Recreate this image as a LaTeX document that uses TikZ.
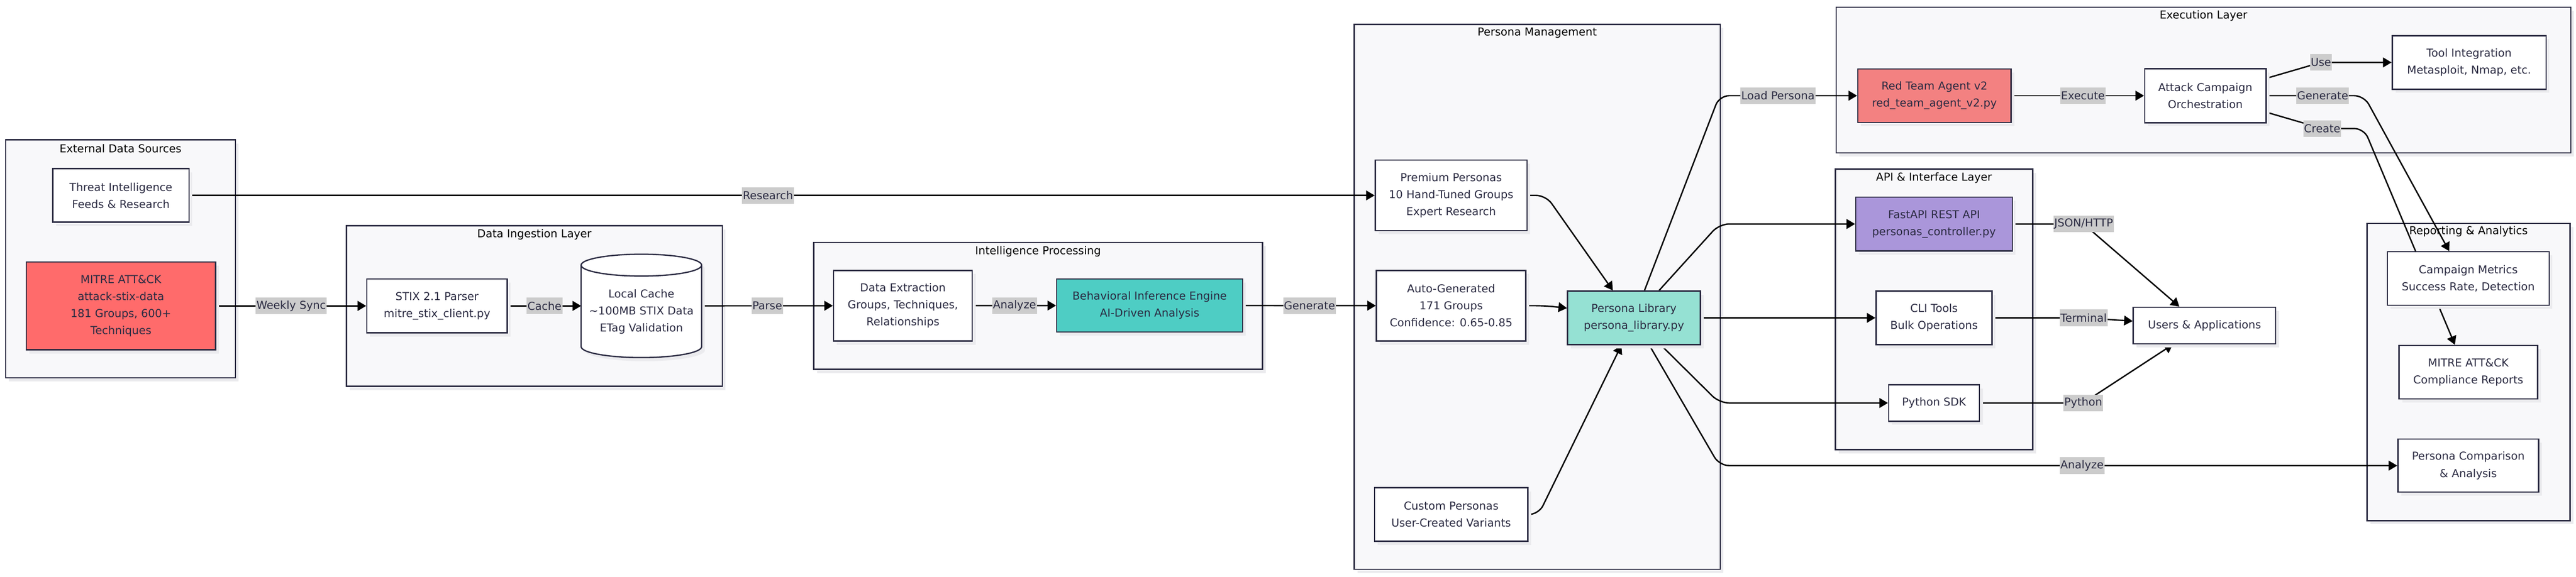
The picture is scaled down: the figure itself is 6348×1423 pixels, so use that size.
\documentclass[tikz,border=0pt]{standalone}
\usepackage{fontspec}
\setmainfont{DejaVu Sans}
\usepackage{xcolor}
\usetikzlibrary{arrows.meta}
\usetikzlibrary{calc}
\usetikzlibrary{shadows}
\usetikzlibrary{backgrounds}
\definecolor{inkcol}{HTML}{2B2B42}
\definecolor{groupcol}{HTML}{F8F8FA}
\definecolor{shadowcol}{HTML}{EBEBEE}
\definecolor{labelgray}{HTML}{CCCCCC}
\definecolor{mitrecol}{HTML}{FF6B6B}
\definecolor{redteamcol}{HTML}{F38181}
\definecolor{behavcol}{HTML}{4ECDC4}
\definecolor{librarycol}{HTML}{95E1D3}
\definecolor{apicol}{HTML}{AA96DA}
\pgfdeclarelayer{edges}
\pgfsetlayers{background,edges,main}
\tikzset{
    txt/.style={text=inkcol, font=\fontsize{13.5}{21}\selectfont, align=center},
    softshadow/.style={general shadow={fill=shadowcol, shadow xshift=4pt, shadow yshift=-4.5pt}},
    box/.style={txt, draw=inkcol, line width=1.6pt, fill=white, inner sep=0pt, softshadow},
    group/.style={draw=inkcol, line width=1.6pt, fill=groupcol, softshadow},
    grouptitle/.style={txt, text=black},
    flow/.style={draw=black, line width=1.7pt, rounded corners=12pt, -{Triangle[length=10.5pt,width=12pt]}},
    lbl/.style={txt, sharp corners, fill=labelgray, inner xsep=1pt, inner ysep=0pt, minimum height=20.5pt}
}

\begin{document}
\begin{tikzpicture}[x=0.5pt,y=-0.5pt]
        \useasboundingbox (0,0) rectangle (6348,1423);

        % groups
        \begin{pgfonlayer}{background}
        \draw[group] (14,345) rectangle (580,932);
        \node[grouptitle] at (297,367) {External Data Sources};
        \draw[group] (854,557) rectangle (1780,953);
        \node[grouptitle] at (1317,578) {Data Ingestion Layer};
        \draw[group] (2005,598) rectangle (3111,911);
        \node[grouptitle] at (2558,620) {Intelligence Processing};
        \draw[group] (3337,60) rectangle (4239,1404);
        \node[grouptitle] at (3788,81) {Persona Management};
        \draw[group] (4525,18) rectangle (6335,377);
        \node[grouptitle] at (5430,39) {Execution Layer};
        \draw[group] (4523,417) rectangle (5009,1109);
        \node[grouptitle] at (4766,439) {API \& Interface Layer};
        \draw[group] (5833,551) rectangle (6333,1284);
        \node[grouptitle] at (6083,571) {Reporting \& Analytics};
        \end{pgfonlayer}

        \node[box, minimum width=168pt, minimum height=66pt] (threat) at (298,482) {Threat Intelligence\\Feeds \& Research};
        \node[box, fill=mitrecol, minimum width=233pt, minimum height=108.5pt] (mitre) at (298,754.5) {MITRE ATT\&CK\\attack-stix-data\\181 Groups, 600+\\Techniques};
        \node[box, minimum width=173pt, minimum height=66.5pt] (stix) at (1077,754.5) {STIX 2.1 Parser\\mitre\_stix\_client.py};

        % cache cylinder
        \node[minimum width=148.5pt, minimum height=127.5pt, inner sep=0pt, outer sep=0pt] (cache) at (1580.5,754.5) {};
        \draw[draw=inkcol, line width=1.6pt, fill=white, softshadow] ([yshift=-13.5pt]cache.north west) -- ([yshift=13.5pt]cache.south west)
            arc[start angle=180, end angle=360, x radius=74.25pt, y radius=13.5pt] -- ([yshift=-13.5pt]cache.north east)
            arc[start angle=0, end angle=180, x radius=74.25pt, y radius=13.5pt] -- cycle;
        \draw[draw=inkcol, line width=1.6pt] ([yshift=-13.5pt]cache.north west) arc[start angle=180, end angle=360, x radius=74.25pt, y radius=13.5pt];
        \node[txt] (cachetext) at (1580.5,769) {Local Cache\\\textasciitilde100MB STIX Data\\ETag Validation};

        \node[box, minimum width=171pt, minimum height=87pt] (extract) at (2225,754) {Data Extraction\\Groups, Techniques,\\Relationships};
        \node[box, fill=behavcol, minimum width=229pt, minimum height=65.5pt] (behav) at (2833,753.5) {Behavioral Inference Engine\\AI-Driven Analysis};

        \node[box, minimum width=187pt, minimum height=87pt] (premium) at (3576,482) {Premium Personas\\10 Hand-Tuned Groups\\Expert Research};
        \node[box, minimum width=184pt, minimum height=87pt] (autogen) at (3576,754) {Auto-Generated\\171 Groups\\Confidence: 0.65-0.85};
        \node[box, minimum width=189pt, minimum height=66pt] (custom) at (3576,1269) {Custom Personas\\User-Created Variants};
        \node[box, fill=librarycol, minimum width=163.5pt, minimum height=66pt] (library) at (4026.5,784) {Persona Library\\persona\_library.py};

        \node[box, fill=redteamcol, minimum width=189pt, minimum height=66pt] (redteam) at (4767,236) {Red Team Agent v2\\red\_team\_agent\_v2.py};
        \node[box, minimum width=149.5pt, minimum height=66.5pt] (campaign) at (5434.5,236) {Attack Campaign\\Orchestration};
        \node[box, minimum width=189.5pt, minimum height=66pt] (tools) at (6084.5,154) {Tool Integration\\Metasploit, Nmap, etc.};

        \node[box, fill=apicol, minimum width=193pt, minimum height=66.5pt] (fastapi) at (4766,552.5) {FastAPI REST API\\personas\_controller.py};
        \node[box, minimum width=143pt, minimum height=66pt] (cli) at (4766,784) {CLI Tools\\Bulk Operations};
        \node[box, minimum width=112pt, minimum height=45pt] (sdk) at (4766,994) {Python SDK};
        \node[box, minimum width=175.5pt, minimum height=45pt] (users) at (5432.5,803) {Users \& Applications};

        \node[box, minimum width=199.5pt, minimum height=66pt] (metrics) at (6082.5,687) {Campaign Metrics\\Success Rate, Detection};
        \node[box, minimum width=170.5pt, minimum height=66pt] (compliance) at (6082.5,918) {MITRE ATT\&CK\\Compliance Reports};
        \node[box, minimum width=173.5pt, minimum height=65.5pt] (comparison) at (6082.5,1148.5) {Persona Comparison\\\& Analysis};

        % connectors
        \begin{pgfonlayer}{edges}
        \coordinate (pmedge) at (4237,0);
        \draw[flow] (threat) -- node[lbl, pos=0.488] {Research} (premium);
        \draw[flow] (mitre) -- node[lbl] {Weekly Sync} (stix);
        \draw[flow] (stix) -- node[lbl] {Cache} (cache);
        \draw[flow] (cache) -- node[lbl] {Parse} (extract);
        \draw[flow] (extract) -- node[lbl] {Analyze} (behav);
        \draw[flow] (behav) -- node[lbl] {Generate} (autogen);

        \draw[flow] (premium.east) -- ++(45,0) -- ($(library.north)+(-52,0)$);
        \draw[flow] (autogen.east) -- ++(45,0) -- ($(library.west)+(0,-24)$);
        \draw[flow] (custom.east) -- ++(25,0) -- ($(library.south)+(-31,0)$);

        \draw[flow] ($(library.north)+(26,0)$) -- (pmedge |- redteam.west) -- node[lbl, pos=0.425] {Load Persona} (redteam.west);
        \draw[flow] ($(library.north)+(62,0)$) -- (pmedge |- fastapi.west) -- (fastapi.west);
        \draw[flow] (library) -- (cli);
        \draw[flow] ($(library.south)+(67,0)$) -- (pmedge |- sdk.west) -- (sdk.west);
        \draw[flow] ($(library.south)+(38,0)$) -- (pmedge |- comparison.west) -- node[lbl, pos=0.535] {Analyze} (comparison.west);

        \draw[flow] (redteam) -- node[lbl, pos=0.538] {Execute} (campaign);
        \draw[flow] ($(campaign.east)+(0,-43)$) -- ($(tools.west)+(-174,0)$) node[lbl] {Use} -- (tools.west);
        \draw[flow] (campaign.east) -- ++(138,0) node[lbl] {Generate} -- ++(102,0) -- ($(metrics.north)+(-47,0)$);
        \draw[flow] ($(campaign.east)+(0,41)$) -- ++(137,40) node[lbl] {Create} -- ++(103,0) -- ($(compliance.north)+(-33,0)$);

        \draw[flow] (fastapi.east) -- ++(174,0) node[lbl] {JSON/HTTP} -- ($(users.north)+(-62,0)$);
        \draw[flow] (cli.east) -- ++(224,0) node[lbl] {Terminal} -- ($(users.west)+(0,-11)$);
        \draw[flow] (sdk.east) -- ++(254,0) node[lbl] {Python} -- ($(users.south)+(-78,0)$);
        \end{pgfonlayer}
    \end{tikzpicture}
\end{document}
